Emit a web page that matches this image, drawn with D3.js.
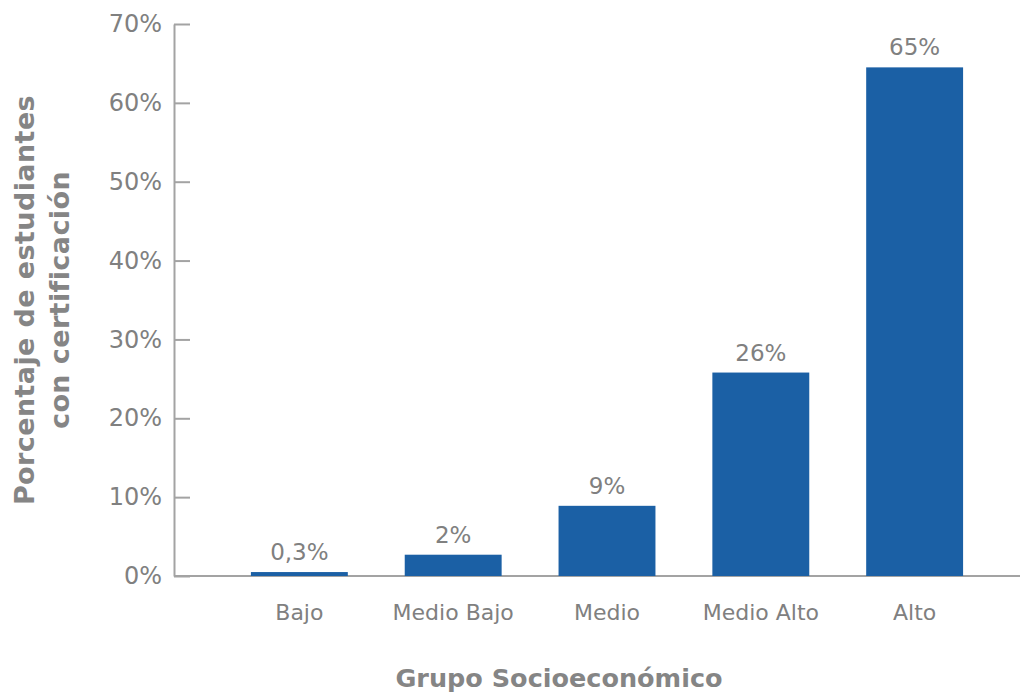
<!DOCTYPE html>
<html>
<head>
<meta charset="utf-8">
<script src="https://cdn.jsdelivr.net/npm/d3@7"></script>
<style>
  body { margin: 0; background: #fff; }
  text { font-family: "DejaVu Sans", Verdana, sans-serif; }
</style>
</head>
<body>
<div id="chart"></div>
<script>
// data
const groups = ['Bajo', 'Medio Bajo', 'Medio', 'Medio Alto', 'Alto'];
const shares = [0.5, 2.7, 8.9, 25.8, 64.5];
const shareLabels = ['0,3%', '2%', '9%', '26%', '65%'];
const yTicks = [0, 10, 20, 30, 40, 50, 60, 70];

const width = 1029, height = 692;
const margin = {top: 24, right: 9, bottom: 116, left: 174};
const innerW = width - margin.left - margin.right;
const innerH = height - margin.top - margin.bottom;
const textColor = '#808080';
const lineColor = '#a3a3a3';

const svg = d3.select('#chart')
  .append('svg')
  .attr('width', width)
  .attr('height', height)
  .append('g')
  .attr('transform', `translate(${margin.left},${margin.top})`);

const x = d3.scaleBand()
  .domain(groups)
  .range([20, innerW])
  .paddingInner(0.37)
  .paddingOuter(0.37);

const y = d3.scaleLinear()
  .domain([0, 70])
  .range([innerH, 0]);

// y axis, ticks pointing inwards
const yAxis = svg.append('g')
  .call(d3.axisLeft(y)
    .tickValues(yTicks)
    .tickSizeInner(-16)
    .tickSizeOuter(0)
    .tickPadding(12)
    .tickFormat(d => d + '%'));
yAxis.selectAll('path, line').attr('stroke', lineColor).attr('stroke-width', 2);
yAxis.selectAll('text')
  .attr('fill', textColor)
  .style('font-size', '24px');

// baseline
svg.append('line')
  .attr('x1', 0)
  .attr('x2', innerW)
  .attr('y1', y(0))
  .attr('y2', y(0))
  .attr('stroke', lineColor)
  .attr('stroke-width', 2);

// category labels
const xAxis = svg.append('g')
  .attr('transform', `translate(0,${innerH})`)
  .call(d3.axisBottom(x).tickSize(0).tickPadding(28));
xAxis.select('.domain').remove();
xAxis.selectAll('text')
  .attr('fill', textColor)
  .style('font-size', '22px');

const rows = groups.map((g, i) => ({group: g, value: shares[i], label: shareLabels[i]}));

svg.selectAll('rect.bar')
  .data(rows)
  .enter()
  .append('rect')
  .attr('class', 'bar')
  .attr('x', d => x(d.group))
  .attr('width', x.bandwidth())
  .attr('y', d => y(d.value))
  .attr('height', d => y(0) - y(d.value))
  .attr('fill', '#1b60a5');

svg.selectAll('text.value')
  .data(rows)
  .enter()
  .append('text')
  .attr('class', 'value')
  .attr('x', d => x(d.group) + x.bandwidth() / 2)
  .attr('y', d => y(d.value) - 12)
  .attr('text-anchor', 'middle')
  .attr('fill', textColor)
  .style('font-size', '23px')
  .text(d => d.label);

// axis titles
svg.append('text')
  .attr('x', 559 - margin.left)
  .attr('y', 687 - margin.top)
  .attr('text-anchor', 'middle')
  .attr('fill', '#858585')
  .style('font-size', '25.5px')
  .style('font-weight', 'bold')
  .text('Grupo Socioeconómico');

const yTitle = svg.append('text')
  .attr('transform', `translate(${34 - margin.left},${300 - margin.top}) rotate(-90)`)
  .attr('text-anchor', 'middle')
  .attr('fill', '#858585')
  .style('font-size', '27px')
  .style('font-weight', 'bold')
  .style('letter-spacing', '0.4px');
yTitle.append('tspan').attr('x', 0).attr('dy', 0).text('Porcentaje de estudiantes');
yTitle.append('tspan').attr('x', 0).attr('dy', 35).text('con certificación');
</script>
</body>
</html>
